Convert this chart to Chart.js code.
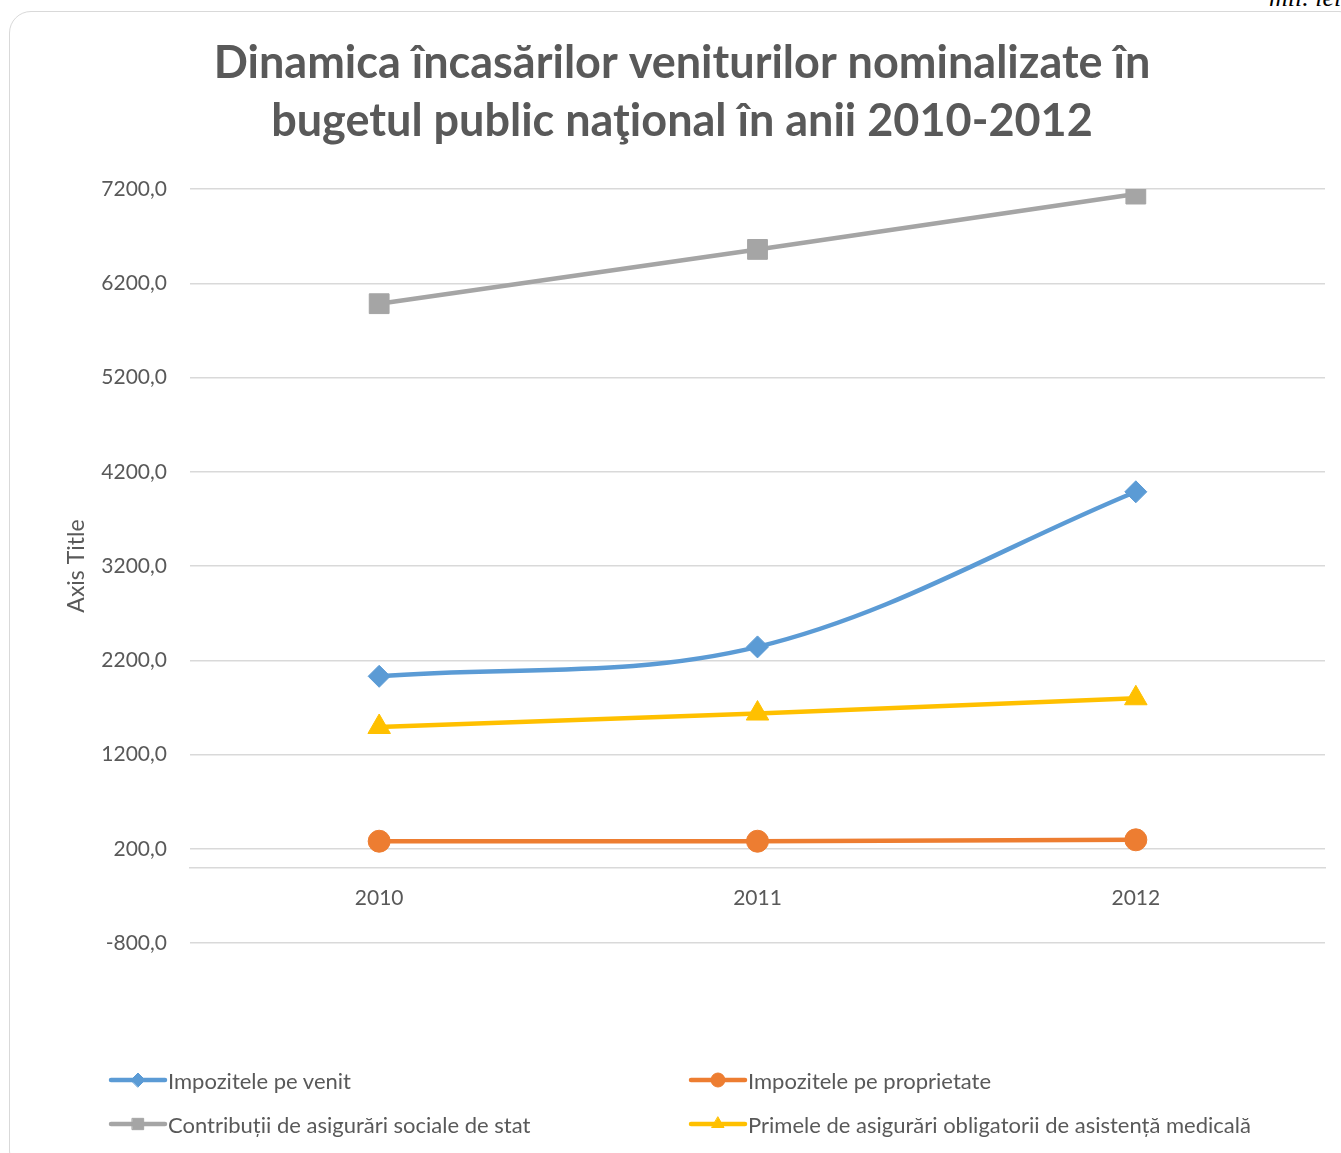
<!DOCTYPE html>
<html>
<head>
<meta charset="utf-8">
<script src="https://cdn.jsdelivr.net/npm/chart.js@4/dist/chart.umd.min.js"></script>
<style>
    body { margin: 0; width: 1341px; height: 1153px; overflow: hidden; background: #fff; font-family: Lato, sans-serif; }
    #frame { position: absolute; left: 9px; top: 11px; width: 1350px; height: 1160px; border: 1.5px solid #d9d9d9; border-radius: 22px; }
    #unit { position: absolute; left: 1269px; top: -17px; font: italic 26px "Liberation Serif", serif; color: #000; white-space: nowrap; }
    #wrap { position: absolute; left: 0; top: 0; width: 1341px; height: 1153px; }
    #legend { position: absolute; left: 108px; top: 1068px; display: grid; grid-template-columns: 580px 600px; row-gap: 20px; }
    .item { display: flex; align-items: center; height: 24px; color: #595959; font-size: 22px; white-space: nowrap; }
    .item canvas { width: 60px; height: 24px; }
</style>
</head>
<body>
<div id="frame"></div>
<div id="unit">mil. lei</div>
<div id="wrap"><canvas id="chart" width="1341" height="1153"></canvas></div>
<div id="legend"></div>
<script>
const years = ['2010', '2011', '2012'];
const seriesNames = [
    'Impozitele pe venit',
    'Impozitele pe proprietate',
    'Contribuții de asigurări sociale de stat',
    'Primele de asigurări obligatorii de asistență medicală'
];
const venit = [2030, 2342, 3988];
const proprietate = [280, 280, 295];
const contributii = [5984, 6560, 7147];
const prime = [1492, 1635, 1797];
const yTicks = [-800, 200, 1200, 2200, 3200, 4200, 5200, 6200, 7200];

const grey = '#595959';

function series(label, data, color, style, radius, tension) {
    return {
        label: label,
        data: data,
        borderColor: color,
        backgroundColor: color,
        borderWidth: 4.5,
        pointStyle: style,
        pointRadius: radius,
        pointBorderWidth: 1,
        pointBackgroundColor: color,
        pointBorderColor: color,
        tension: tension
    };
}

const datasets = [
    series(seriesNames[0], venit, '#5b9bd5', 'rectRot', 11, 0.35),
    series(seriesNames[1], proprietate, '#ed7d31', 'circle', 11, 0),
    series(seriesNames[2], contributii, '#a5a5a5', 'rect', 14, 0),
    series(seriesNames[3], prime, '#ffc000', 'triangle', 13, 0)
];

const chart = new Chart(document.getElementById('chart'), {
    type: 'line',
    data: { labels: years, datasets: datasets },
    options: {
        responsive: false,
        animation: false,
        events: [],
        layout: { padding: { left: 39, right: 16, top: 0, bottom: 210 } },
        plugins: {
            legend: { display: false },
            tooltip: { enabled: false },
            title: {
                display: true,
                text: ['Dinamica încasărilor veniturilor nominalizate în', 'bugetul public naţional în anii 2010-2012'],
                color: grey,
                font: { family: 'Lato', size: 45, weight: 'bold', lineHeight: 1.29 },
                padding: { top: 34, bottom: 39 }
            }
        },
        scales: {
            x: {
                type: 'category',
                offset: true,
                position: { y: 0 },
                grid: { display: false, drawTicks: false },
                border: { display: true, color: '#d9d9d9', width: 1.5 },
                ticks: { color: grey, font: { family: 'Lato', size: 21 }, padding: 18 }
            },
            y: {
                min: -800,
                max: 7200,
                afterFit: s => { s.width = 151; },
                afterBuildTicks: s => { s.ticks = yTicks.map(v => ({ value: v })); },
                grid: { color: '#d9d9d9', lineWidth: 1.5, drawTicks: false },
                border: { display: false },
                ticks: {
                    color: grey,
                    padding: 23,
                    font: { family: 'Lato', size: 21 },
                    callback: v => v.toFixed(1).replace('.', ',')
                },
                title: {
                    display: true,
                    text: 'Axis Title',
                    color: grey,
                    font: { family: 'Lato', size: 23 },
                    padding: { top: 24, bottom: 0 }
                }
            }
        }
    }
});

function buildLegend() {
    const box = document.getElementById('legend');
    chart.data.datasets.forEach(ds => {
        const item = document.createElement('div');
        item.className = 'item';
        const c = document.createElement('canvas');
        c.width = 60; c.height = 24;
        const ctx = c.getContext('2d');
        ctx.strokeStyle = ds.borderColor;
        ctx.lineWidth = 4.5;
        ctx.lineCap = 'round';
        ctx.beginPath();
        ctx.moveTo(3, 12);
        ctx.lineTo(57, 12);
        ctx.stroke();
        ctx.fillStyle = ds.pointBackgroundColor;
        ctx.strokeStyle = ds.pointBorderColor;
        ctx.lineWidth = 1;
        const r = ds.pointStyle === 'rect' ? 8 : 7;
        Chart.helpers.drawPoint(ctx, { pointStyle: ds.pointStyle, radius: r, rotation: 0, borderWidth: 1 }, 30, 12);
        item.appendChild(c);
        const t = document.createElement('span');
        t.textContent = ds.label;
        item.appendChild(t);
        box.appendChild(item);
    });
}
buildLegend();
</script>
</body>
</html>
